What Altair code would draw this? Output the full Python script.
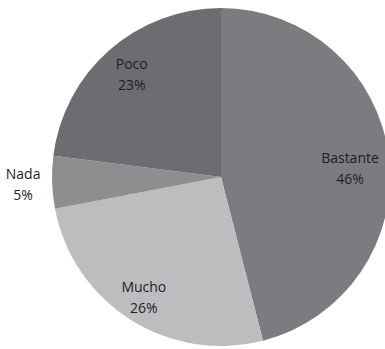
import altair as alt
import pandas as pd
import math

categories = ["Bastante", "Mucho", "Nada", "Poco"]
values = [46, 26, 5, 23]
colors = ["#7c7c80", "#bdbdbf", "#8e8e91", "#6d6d71"]
label_radius = [130, 144, 198, 135]
label_shift = [9, 0, 2, 0]

df = pd.DataFrame({
    "cat": categories,
    "val": values,
    "order": list(range(len(categories))),
    "lr": label_radius,
    "shift": label_shift,
})
df["label"] = df["cat"] + "\n" + df["val"].astype(str) + "%"

CX, CY, R = 221, 177, 169
TOTAL = sum(values)
LH = 21

pie = alt.Chart(df).mark_arc(x=CX, y=CY, outerRadius=R, stroke=None).encode(
    theta=alt.Theta("val:Q", stack=True, scale=alt.Scale(domain=[0, TOTAL], range=[0, 2 * math.pi])),
    order=alt.Order("order:Q"),
    color=alt.Color("cat:N", scale=alt.Scale(domain=categories, range=colors), legend=None),
)

text = alt.Chart(df).transform_window(
    cum="sum(val)", sort=[alt.SortField("order")], frame=[None, 0]
).transform_calculate(
    mid="datum.cum - datum.val / 2"
).mark_text(
    x=CX, y=CY, dy=-LH / 2, lineBreak="\n", font="Open Sans", fontSize=14,
    color="#1e1e1e", align="center", baseline="middle", lineHeight=LH
).encode(
    theta=alt.Theta("mid:Q", scale=alt.Scale(domain=[0, TOTAL], range=[0, 2 * math.pi])),
    radius=alt.Radius("lr:Q", scale=None),
    yOffset=alt.YOffset("shift:Q", scale=None),
    text="label:N",
)

chart = (pie + text).resolve_scale(theta="independent").properties(
    width=385, height=349, padding=0, autosize=alt.AutoSizeParams(type="none"),
    background="white"
).configure_view(stroke=None)

chart.save("out.html", embed_options={"renderer": "svg", "actions": False})
